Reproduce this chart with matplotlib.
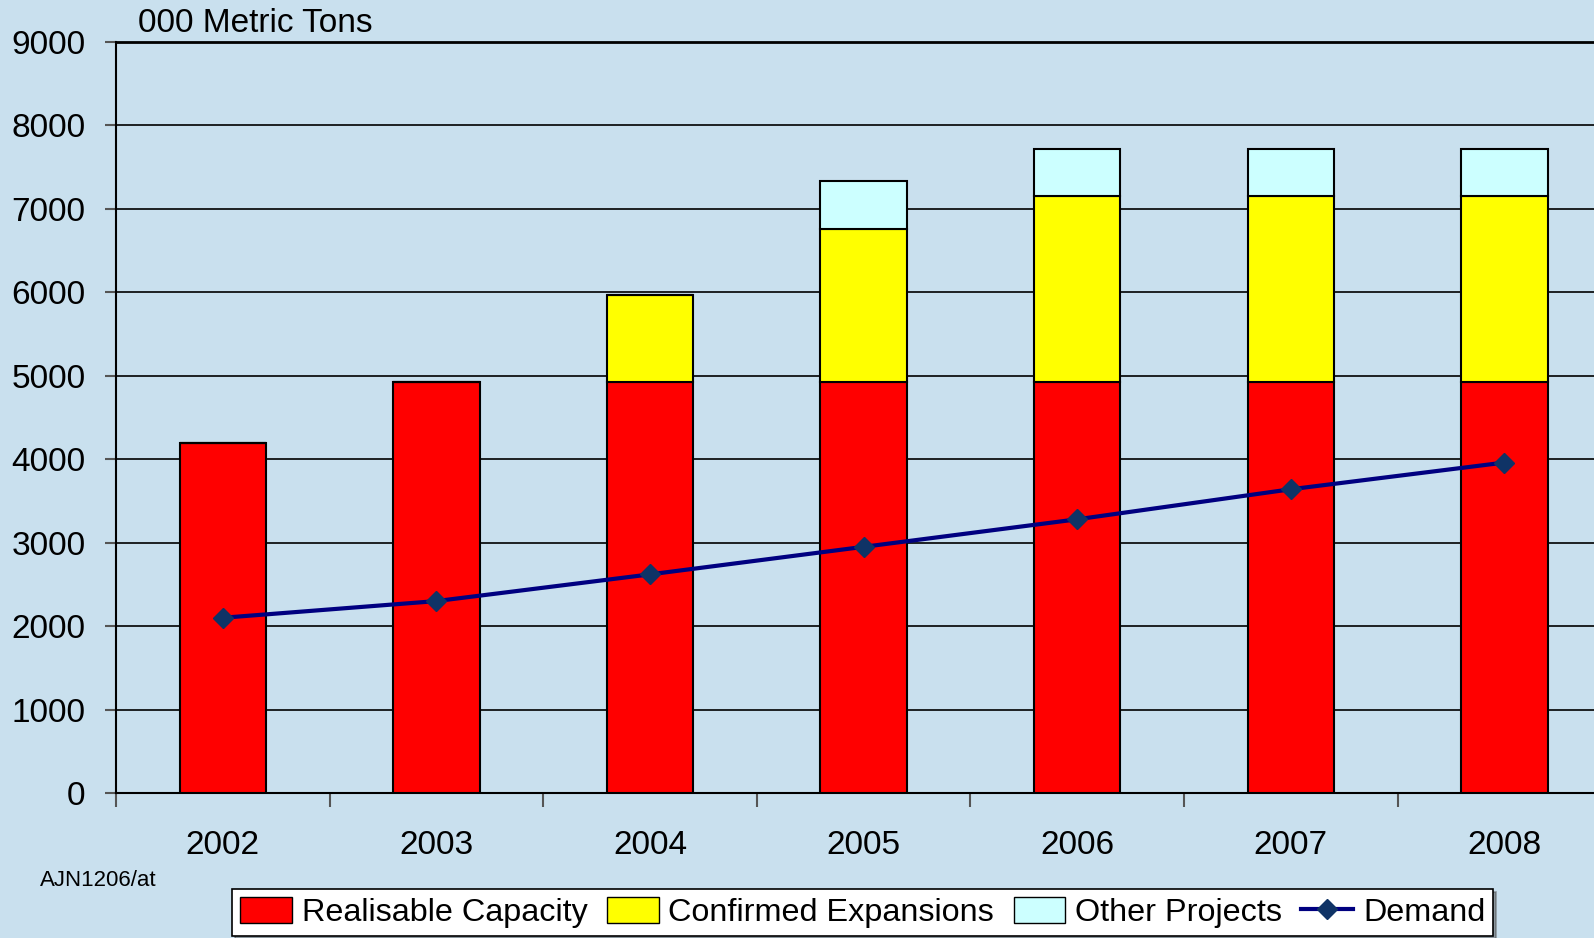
import numpy as np
import matplotlib.pyplot as plt
from matplotlib.lines import Line2D
from matplotlib.patches import Patch

plt.rcParams['font.family'] = ['Liberation Sans', 'DejaVu Sans']

years = ['2002', '2003', '2004', '2005', '2006', '2007', '2008']
realisable = [4200, 4930, 4930, 4930, 4930, 4930, 4930]
confirmed = [0, 0, 1040, 1830, 2230, 2230, 2230]
other = [0, 0, 0, 580, 560, 560, 560]
demand = [2100, 2300, 2620, 2950, 3280, 3640, 3960]

bg = '#C9E0EE'
fig = plt.figure(figsize=(15.94, 9.38), dpi=100, facecolor=bg)
ax = fig.add_axes([0.0728, 0.1546, 0.938, 0.8006])
ax.set_facecolor(bg)

x = np.arange(len(years))
realisable = np.array(realisable)
confirmed = np.array(confirmed)
other = np.array(other)
w = 0.405
ax.bar(x, realisable, w, color='#FF0000', edgecolor='black', linewidth=1.5, zorder=3)
ax.bar(x, confirmed, w, bottom=realisable, color='#FFFF00', edgecolor='black', linewidth=1.5, zorder=3)
ax.bar(x, other, w, bottom=realisable + confirmed, color='#CCFFFF', edgecolor='black', linewidth=1.5, zorder=3)
ax.plot(x, demand, color='#000080', linewidth=3, marker='D', markersize=10,
        markerfacecolor='#0F3366', markeredgecolor='#0F3366', zorder=4)

ax.set_xlim(-0.5, 6.5)
ax.set_ylim(0, 9000)
ax.set_yticks(np.arange(0, 9001, 1000))
ax.grid(axis='y', color='black', linewidth=1.2, zorder=0)
ax.tick_params(axis='y', labelsize=24, length=8, color='#555555', width=1.5, pad=14)

ax.set_xticks(np.arange(-0.5, 7, 1))
ax.set_xticklabels([])
ax.set_xticks(x, minor=True)
ax.set_xticklabels(years, minor=True)
ax.tick_params(axis='x', which='major', length=10, color='#555555', width=1.5)
ax.tick_params(axis='x', which='minor', length=0, labelsize=24, pad=27)

ax.spines['right'].set_visible(False)
ax.spines['top'].set_linewidth(2)
ax.spines['left'].set_linewidth(1.5)
ax.spines['bottom'].set_linewidth(1.5)

fig.text(138 / 1594, 1 - 23 / 938, '000 Metric Tons', fontsize=24, va='center', ha='left')
fig.text(40 / 1594, 1 - 880 / 938, 'AJN1206/at', fontsize=16, va='center', ha='left')

handles = [
    Patch(facecolor='#FF0000', edgecolor='black', label='Realisable Capacity'),
    Patch(facecolor='#FFFF00', edgecolor='black', label='Confirmed Expansions'),
    Patch(facecolor='#CCFFFF', edgecolor='black', label='Other Projects'),
    Line2D([0], [0], color='#000080', linewidth=3, marker='D', markersize=10,
           markerfacecolor='#0F3366', markeredgecolor='#0F3366', label='Demand'),
]
leg = fig.legend(handles=handles, loc='lower left', bbox_to_anchor=(232 / 1594, 0.002),
                 ncol=4, fontsize=23.3, frameon=True, fancybox=False, shadow=True,
                 framealpha=1, edgecolor='black', handlelength=1.6, handleheight=0.85,
                 handletextpad=0.3, columnspacing=0.6, borderpad=0.25, borderaxespad=0)
leg.get_frame().set_linewidth(1.2)

fig.savefig('out.png', dpi=100, facecolor=bg)
